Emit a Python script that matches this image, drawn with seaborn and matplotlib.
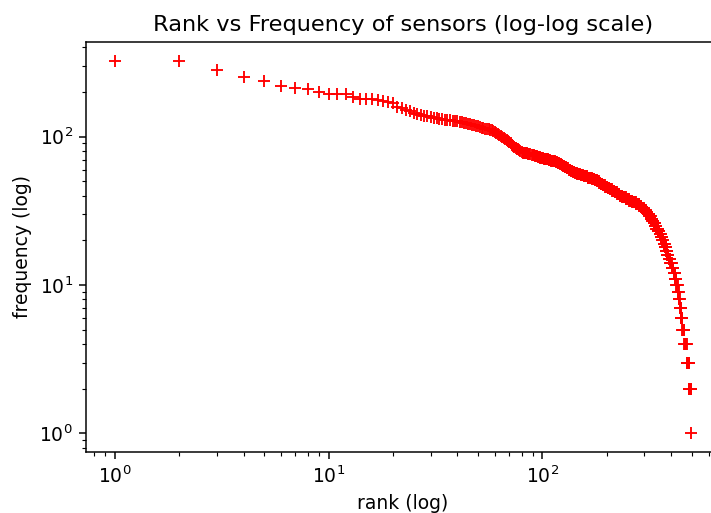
import numpy as np
import pandas as pd
import matplotlib
matplotlib.use("Agg")
import matplotlib.pyplot as plt
import seaborn as sns

# Frequencies of the top-80 ranked sensors (read individually)
top_freqs = [325, 323, 283, 253, 236, 218, 213, 209, 200, 195,
             194, 193, 184, 180, 179, 178, 177, 173, 171, 168,
             158, 155, 152, 148, 145, 143, 140, 138, 137, 135,
             134, 133, 132, 131, 130, 130, 129, 128, 127, 127,
             126, 125, 124, 123, 122, 121, 120, 119, 118, 117,
             116, 115, 114, 113, 112, 112, 111, 110, 109, 108,
             106, 104, 103, 101, 99, 98, 96, 95, 93, 92,
             90, 88, 87, 85, 84, 83, 82, 81, 80, 79]

# Remaining sensors: frequency value and how many sensors share it
tail_values = [78, 77, 76, 75, 74, 73, 72, 71, 70, 69, 68, 67, 66, 65, 64, 63,
               62, 61, 60, 59, 58, 57, 56, 55, 54, 53, 52, 51, 50, 49, 48, 47,
               46, 45, 44, 43, 42, 41, 40, 39, 38, 37, 36, 35, 34, 33, 32, 31,
               30, 29, 28, 27, 26, 25, 24, 23, 22, 21, 20, 19, 18, 17, 16, 15,
               14, 13, 12, 11, 10, 9, 8, 7, 6, 5, 4, 3, 2, 1]
tail_counts = [2, 3, 3, 3, 3, 3, 4, 5, 3, 3, 3, 2, 3, 2, 2, 2,
               3, 3, 3, 3, 3, 4, 5, 5, 7, 8, 5, 5, 4, 3, 4, 5,
               5, 5, 5, 6, 6, 6, 7, 9, 9, 9, 10, 10, 8, 7, 6, 6,
               6, 5, 5, 5, 5, 5, 6, 6, 5, 5, 5, 5, 5, 5, 6, 7,
               7, 7, 7, 6, 6, 5, 5, 5, 7, 10, 12, 12, 11, 1]

freqs = np.concatenate([np.array(top_freqs), np.repeat(tail_values, tail_counts)])
ranks = np.arange(1, len(freqs) + 1)
df = pd.DataFrame({"rank": ranks, "frequency": freqs})

S = 1.35
plt.rcParams.update({
    "font.family": ["DejaVu Sans"],
    "axes.linewidth": 0.8 * S,
    "xtick.major.size": 3.5 * S, "ytick.major.size": 3.5 * S,
    "xtick.minor.size": 2.0 * S, "ytick.minor.size": 2.0 * S,
    "xtick.major.width": 0.8 * S, "ytick.major.width": 0.8 * S,
    "xtick.minor.width": 0.6 * S, "ytick.minor.width": 0.6 * S,
    "xtick.labelsize": 10 * S, "ytick.labelsize": 10 * S,
    "xtick.major.pad": 3.5 * S, "ytick.major.pad": 3.5 * S,
})

fig = plt.figure(figsize=(7.11, 5.13), dpi=100)
ax = fig.add_axes([86 / 711, 61 / 513, 634 / 711, 410 / 513])
ax.set_xscale("log")
ax.set_yscale("log")
sns.scatterplot(data=df, x="rank", y="frequency", marker="+", color="red",
                s=(6 * S) ** 2, linewidth=1.0 * S, ax=ax, legend=False)
ax.set_title("Rank vs Frequency of sensors (log-log scale)", fontsize=12 * S, pad=6 * S)
ax.set_xlabel("rank (log)", fontsize=10 * S, labelpad=4 * S)
ax.set_ylabel("frequency (log)", fontsize=10 * S, labelpad=4 * S)
fig.savefig("out.png", dpi=100)
